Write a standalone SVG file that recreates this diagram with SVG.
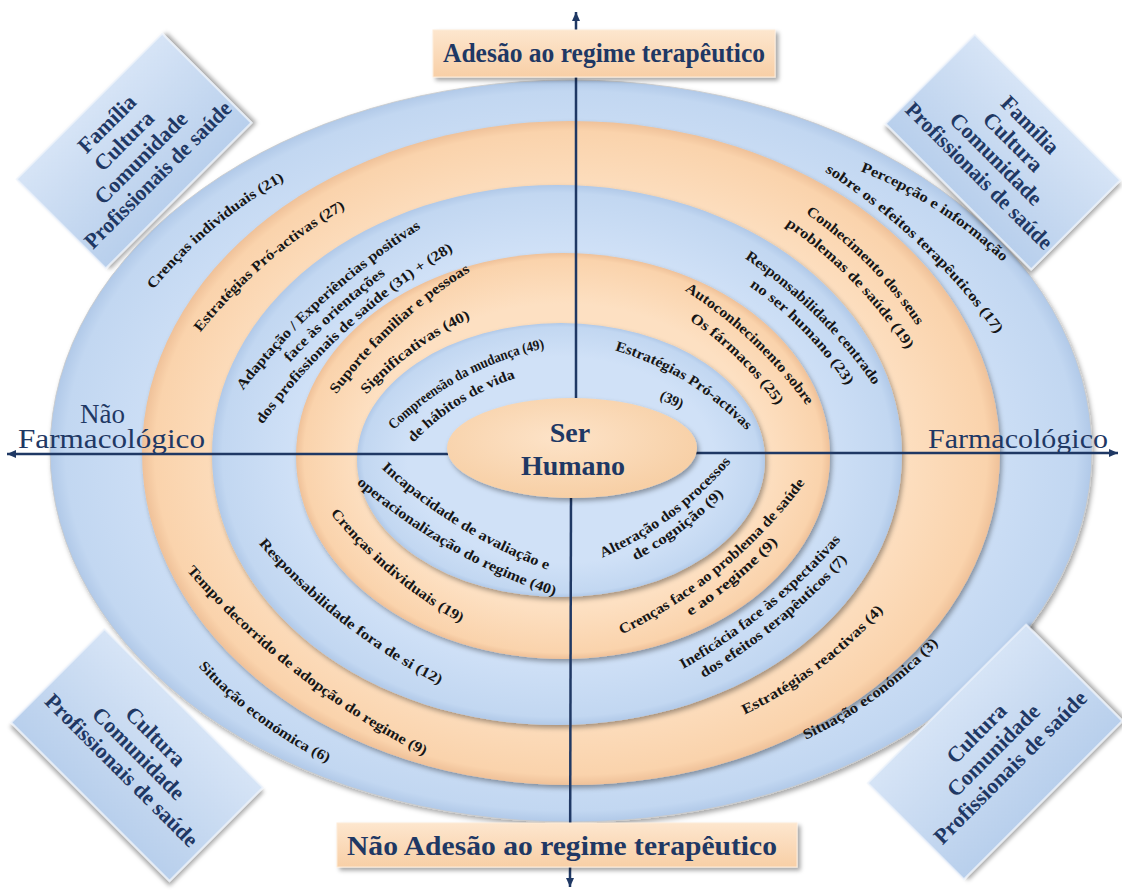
<svg xmlns="http://www.w3.org/2000/svg" xmlns:xlink="http://www.w3.org/1999/xlink" width="1122" height="890" viewBox="0 0 1122 890">
<style>
.rb{fill:url(#gb);filter:url(#sh)}
.ro{fill:url(#go);filter:url(#sh)}
.lbl{font-family:"Liberation Serif","Times New Roman",serif;font-weight:bold;font-size:14.5px;fill:#161616}
.box{fill:url(#gbox);stroke:#eef4fc;stroke-width:1.5;filter:url(#sh2)}
.boxt{font-family:"Liberation Serif","Times New Roman",serif;font-weight:bold;font-size:22px;fill:#1f3864;text-anchor:middle}
.axis{stroke:#1f3864;stroke-width:2.5;fill:none}
.hdr{fill:url(#gh);stroke:#fdebd8;stroke-width:1;filter:url(#sh2)}
.hdrt{font-family:"Liberation Serif","Times New Roman",serif;font-weight:bold;font-size:28px;fill:#1f3864}
.side{font-family:"Liberation Serif","Times New Roman",serif;font-size:27px;fill:#1f3864}
.ser{font-family:"Liberation Serif","Times New Roman",serif;font-weight:bold;font-size:28px;fill:#1f3864;text-anchor:middle}
</style>
<defs>
<radialGradient id="gb" cx="50%" cy="50%" r="50%"><stop offset="0.75" stop-color="#d0e1f7"/><stop offset="0.97" stop-color="#c2d7f1"/><stop offset="1" stop-color="#b1c9e8"/></radialGradient>
<radialGradient id="go" cx="50%" cy="50%" r="50%"><stop offset="0.75" stop-color="#fde0c2"/><stop offset="0.97" stop-color="#fad3ac"/><stop offset="1" stop-color="#efc199"/></radialGradient>
<radialGradient id="gc" cx="45%" cy="40%" r="60%"><stop offset="0" stop-color="#fde3c8"/><stop offset="1" stop-color="#f7cfa5"/></radialGradient>
<linearGradient id="gbox" x1="0" y1="0" x2="0" y2="1"><stop offset="0" stop-color="#d6e4f6"/><stop offset="1" stop-color="#b8cfec"/></linearGradient>
<linearGradient id="gh" x1="0" y1="0" x2="0" y2="1"><stop offset="0" stop-color="#fde6ce"/><stop offset="1" stop-color="#f8cfa6"/></linearGradient>
<filter id="sh" x="-10%" y="-10%" width="120%" height="120%"><feDropShadow dx="2" dy="3" stdDeviation="2.5" flood-color="#000" flood-opacity="0.35"/></filter>
<filter id="sh2" x="-10%" y="-10%" width="125%" height="130%"><feDropShadow dx="3" dy="3" stdDeviation="2" flood-color="#000" flood-opacity="0.35"/></filter>
<marker id="ah" markerUnits="userSpaceOnUse" markerWidth="10" markerHeight="10" refX="9" refY="4" orient="auto"><path d="M0,0 L9,4 L0,8 z" fill="#1f3864"/></marker>
<path id="p1" d="M153,290 A447,447 0 0 1 285,180"/>
<path id="p2" d="M200,333 A500,500 0 0 1 346,208"/>
<path id="p3a" d="M228.2,410.4 A700,700 0 0 1 442.4,215.2"/>
<path id="p3b" d="M273.6,381.3 A682,682 0 0 1 405.9,260.1"/>
<path id="p3c" d="M248.0,444.9 A664,664 0 0 1 475.0,238.1"/>
<path id="p4a" d="M336,395 A476,476 0 0 1 471,271"/>
<path id="p4b" d="M366,395 A338,338 0 0 1 471,318"/>
<path id="p5a" d="M393,431 A300,300 0 0 1 546,348"/>
<path id="p5b" d="M413,443 A250,250 0 0 1 516,378"/>
<path id="p6a" d="M860,171 A440,440 0 0 1 1003,262"/>
<path id="p6b" d="M824,171 A620,620 0 0 1 997,335"/>
<path id="p7a" d="M805,213 A414,414 0 0 1 917,326"/>
<path id="p7b" d="M785,225 A454,454 0 0 1 907,350"/>
<path id="p8a" d="M744,258 A473,473 0 0 1 874,386"/>
<path id="p8b" d="M749,286 A364,364 0 0 1 847,386"/>
<path id="p9a" d="M684,290 A440,440 0 0 1 807,406"/>
<path id="p9b" d="M689,320 A320,320 0 0 1 777,406"/>
<path id="p10" d="M614,350 A300,300 0 0 1 747,431"/>
<path id="p11a" d="M381,468 A500,500 0 0 0 548,570"/>
<path id="p11b" d="M356,483 A590,590 0 0 0 555,596"/>
<path id="p12" d="M330,513 A445,445 0 0 0 461,623"/>
<path id="p13" d="M258,543 A600,600 0 0 0 440,685"/>
<path id="p14" d="M186,570 A790,790 0 0 0 425,756"/>
<path id="p15" d="M198,666 A421,421 0 0 0 328,763"/>
<path id="p16a" d="M583.7,565.1 A350,350 0 0 0 743.4,446.0"/>
<path id="p16b" d="M617.5,569.5 A367,367 0 0 0 737.7,479.8"/>
<path id="p17a" d="M603.7,642.8 A500,500 0 0 0 816.6,466.7"/>
<path id="p17b" d="M673.3,626.9 A518,518 0 0 0 791.7,527.8"/>
<path id="p18a" d="M665.5,678.5 A600,600 0 0 0 853.8,524.6"/>
<path id="p18b" d="M686.2,687.9 A618,618 0 0 0 860.6,544.6"/>
<path id="p19" d="M744,715 A455,455 0 0 0 884,610"/>
<path id="p20" d="M805,740 A430,430 0 0 0 939,643"/>
</defs>
<rect width="1122" height="890" fill="#ffffff"/>
<g id="rings">
<ellipse id="ring1" class="rb" cx="571" cy="451" rx="521" ry="371" stroke="#c9c9c9" stroke-width="0.8"/>
<ellipse id="ring2" class="ro" cx="571" cy="453" rx="429" ry="332"/>
<ellipse id="ring3" class="rb" cx="557" cy="455" rx="345" ry="270"/>
<ellipse id="ring4" class="ro" cx="563" cy="456" rx="267" ry="203"/>
<ellipse id="ring5" class="rb" cx="561" cy="460" rx="204" ry="137"/>
</g>
<g id="connectors">
<line class="axis" x1="576" y1="398" x2="576" y2="12" marker-end="url(#ah)"/>
<line class="axis" x1="571" y1="496" x2="570" y2="887" marker-end="url(#ah)"/>
<line class="axis" x1="448" y1="454" x2="7" y2="454" marker-end="url(#ah)"/>
<line class="axis" x1="696" y1="453" x2="1118" y2="453" marker-end="url(#ah)"/>
</g>
<g id="node-ser-humano">
<ellipse cx="572" cy="448" rx="125" ry="50" fill="url(#gc)" filter="url(#sh)"/>
<text class="ser" x="570" y="442">Ser</text>
<text class="ser" x="573" y="475">Humano</text>
</g>
<g id="labels">
<text class="lbl"><textPath xlink:href="#p1" href="#p1" startOffset="50%" text-anchor="middle" textLength="172" lengthAdjust="spacingAndGlyphs">Crenças individuais (21)</textPath></text>
<text class="lbl"><textPath xlink:href="#p2" href="#p2" startOffset="50%" text-anchor="middle" textLength="192" lengthAdjust="spacingAndGlyphs">Estratégias Pró-activas (27)</textPath></text>
<text class="lbl"><textPath xlink:href="#p3a" href="#p3a" startOffset="50%" text-anchor="middle" textLength="242" lengthAdjust="spacingAndGlyphs">Adaptação / Experiências positivas</textPath></text>
<text class="lbl"><textPath xlink:href="#p3b" href="#p3b" startOffset="50%" text-anchor="middle" textLength="130" lengthAdjust="spacingAndGlyphs">face às orientações</textPath></text>
<text class="lbl"><textPath xlink:href="#p3c" href="#p3c" startOffset="50%" text-anchor="middle" textLength="260" lengthAdjust="spacingAndGlyphs">dos profissionais de saúde (31) + (28)</textPath></text>
<text class="lbl"><textPath xlink:href="#p4a" href="#p4a" startOffset="50%" text-anchor="middle" textLength="183" lengthAdjust="spacingAndGlyphs">Suporte familiar e pessoas</textPath></text>
<text class="lbl"><textPath xlink:href="#p4b" href="#p4b" startOffset="50%" text-anchor="middle" textLength="130" lengthAdjust="spacingAndGlyphs">Significativas (40)</textPath></text>
<text class="lbl"><textPath xlink:href="#p5a" href="#p5a" startOffset="50%" text-anchor="middle" textLength="174" lengthAdjust="spacingAndGlyphs">Compreensão da mudança (49)</textPath></text>
<text class="lbl"><textPath xlink:href="#p5b" href="#p5b" startOffset="50%" text-anchor="middle" textLength="122" lengthAdjust="spacingAndGlyphs">de hábitos de vida</textPath></text>
<text class="lbl"><textPath xlink:href="#p6a" href="#p6a" startOffset="50%" text-anchor="middle" textLength="170" lengthAdjust="spacingAndGlyphs">Percepção e informação</textPath></text>
<text class="lbl"><textPath xlink:href="#p6b" href="#p6b" startOffset="50%" text-anchor="middle" textLength="238" lengthAdjust="spacingAndGlyphs">sobre os efeitos terapêuticos (17)</textPath></text>
<text class="lbl"><textPath xlink:href="#p7a" href="#p7a" startOffset="50%" text-anchor="middle" textLength="159" lengthAdjust="spacingAndGlyphs">Conhecimento dos seus</textPath></text>
<text class="lbl"><textPath xlink:href="#p7b" href="#p7b" startOffset="50%" text-anchor="middle" textLength="175" lengthAdjust="spacingAndGlyphs">problemas de saúde (19)</textPath></text>
<text class="lbl"><textPath xlink:href="#p8a" href="#p8a" startOffset="50%" text-anchor="middle" textLength="182" lengthAdjust="spacingAndGlyphs">Responsabilidade centrado</textPath></text>
<text class="lbl"><textPath xlink:href="#p8b" href="#p8b" startOffset="50%" text-anchor="middle" textLength="140" lengthAdjust="spacingAndGlyphs">no ser humano (23)</textPath></text>
<text class="lbl"><textPath xlink:href="#p9a" href="#p9a" startOffset="50%" text-anchor="middle" textLength="169" lengthAdjust="spacingAndGlyphs">Autoconhecimento sobre</textPath></text>
<text class="lbl"><textPath xlink:href="#p9b" href="#p9b" startOffset="50%" text-anchor="middle" textLength="123" lengthAdjust="spacingAndGlyphs">Os fármacos (25)</textPath></text>
<text class="lbl"><textPath xlink:href="#p10" href="#p10" startOffset="50%" text-anchor="middle" textLength="156" lengthAdjust="spacingAndGlyphs">Estratégias Pró-activas</textPath></text>
<text class="lbl" transform="translate(670,404) rotate(24)" text-anchor="middle">(39)</text>
<text class="lbl"><textPath xlink:href="#p11a" href="#p11a" startOffset="50%" text-anchor="middle" textLength="196" lengthAdjust="spacingAndGlyphs">Incapacidade de avaliação e</textPath></text>
<text class="lbl"><textPath xlink:href="#p11b" href="#p11b" startOffset="50%" text-anchor="middle" textLength="229" lengthAdjust="spacingAndGlyphs">operacionalização do regime (40)</textPath></text>
<text class="lbl"><textPath xlink:href="#p12" href="#p12" startOffset="50%" text-anchor="middle" textLength="171" lengthAdjust="spacingAndGlyphs">Crenças individuais (19)</textPath></text>
<text class="lbl"><textPath xlink:href="#p13" href="#p13" startOffset="50%" text-anchor="middle" textLength="231" lengthAdjust="spacingAndGlyphs">Responsabilidade fora de si (12)</textPath></text>
<text class="lbl"><textPath xlink:href="#p14" href="#p14" startOffset="50%" text-anchor="middle" textLength="303" lengthAdjust="spacingAndGlyphs">Tempo decorrido de adopção do regime (9)</textPath></text>
<text class="lbl"><textPath xlink:href="#p15" href="#p15" startOffset="50%" text-anchor="middle" textLength="162" lengthAdjust="spacingAndGlyphs">Situação económica (6)</textPath></text>
<text class="lbl"><textPath xlink:href="#p16a" href="#p16a" startOffset="50%" text-anchor="middle" textLength="162" lengthAdjust="spacingAndGlyphs">Alteração dos processos</textPath></text>
<text class="lbl"><textPath xlink:href="#p16b" href="#p16b" startOffset="50%" text-anchor="middle" textLength="111" lengthAdjust="spacingAndGlyphs">de cognição (9)</textPath></text>
<text class="lbl"><textPath xlink:href="#p17a" href="#p17a" startOffset="50%" text-anchor="middle" textLength="240" lengthAdjust="spacingAndGlyphs">Crenças face ao problema de saúde</textPath></text>
<text class="lbl"><textPath xlink:href="#p17b" href="#p17b" startOffset="50%" text-anchor="middle" textLength="115" lengthAdjust="spacingAndGlyphs">e ao regime (9)</textPath></text>
<text class="lbl"><textPath xlink:href="#p18a" href="#p18a" startOffset="50%" text-anchor="middle" textLength="205" lengthAdjust="spacingAndGlyphs">Ineficácia face às expectativas</textPath></text>
<text class="lbl"><textPath xlink:href="#p18b" href="#p18b" startOffset="50%" text-anchor="middle" textLength="187" lengthAdjust="spacingAndGlyphs">dos efeitos terapêuticos (7)</textPath></text>
<text class="lbl"><textPath xlink:href="#p19" href="#p19" startOffset="50%" text-anchor="middle" textLength="175" lengthAdjust="spacingAndGlyphs">Estratégias reactivas (4)</textPath></text>
<text class="lbl"><textPath xlink:href="#p20" href="#p20" startOffset="50%" text-anchor="middle" textLength="165" lengthAdjust="spacingAndGlyphs">Situação económica (3)</textPath></text>
</g>
<g id="axis-labels">
<text class="side" x="80" y="423">Não</text>
<text class="side" x="18" y="448" textLength="187" lengthAdjust="spacingAndGlyphs">Farmacológico</text>
<text class="side" x="928" y="448" textLength="180" lengthAdjust="spacingAndGlyphs">Farmacológico</text>
</g>
<g id="node-adesao">
<rect class="hdr" x="433" y="30" width="342" height="47"/>
<text class="hdrt" x="443" y="62" textLength="322" lengthAdjust="spacingAndGlyphs">Adesão ao regime terapêutico</text>
</g>
<g id="node-nao-adesao">
<rect class="hdr" x="337" y="823" width="460" height="44"/>
<text class="hdrt" x="347" y="855" font-size="27" textLength="430" lengthAdjust="spacingAndGlyphs">Não Adesão ao regime terapêutico</text>
</g>
<g id="node-ctx-tl" transform="translate(134,151) rotate(-45)">
<rect class="box" x="-103" y="-63" width="206" height="126"/>
<text class="boxt"><tspan x="0" y="-31">Família</tspan><tspan x="0" y="-7">Cultura</tspan><tspan x="0" y="17">Comunidade</tspan><tspan x="0" y="41" textLength="198" lengthAdjust="spacingAndGlyphs">Profissionais de saúde</tspan></text>
</g>
<g id="node-ctx-tr" transform="translate(1003,152) rotate(45)">
<rect class="box" x="-103" y="-63" width="206" height="126"/>
<text class="boxt"><tspan x="0" y="-31">Família</tspan><tspan x="0" y="-7">Cultura</tspan><tspan x="0" y="17">Comunidade</tspan><tspan x="0" y="41" textLength="198" lengthAdjust="spacingAndGlyphs">Profissionais de saúde</tspan></text>
</g>
<g id="node-ctx-bl" transform="translate(137,755) rotate(45)">
<rect class="box" x="-112" y="-66" width="224" height="132"/>
<text class="boxt"><tspan x="0" y="-19">Cultura</tspan><tspan x="0" y="5">Comunidade</tspan><tspan x="0" y="29">Profissionais de saúde</tspan></text>
</g>
<g id="node-ctx-br" transform="translate(995,752) rotate(-45)">
<rect class="box" x="-112" y="-68" width="224" height="136"/>
<text class="boxt"><tspan x="0" y="-19">Cultura</tspan><tspan x="0" y="5">Comunidade</tspan><tspan x="0" y="29">Profissionais de saúde</tspan></text>
</g>
</svg>
